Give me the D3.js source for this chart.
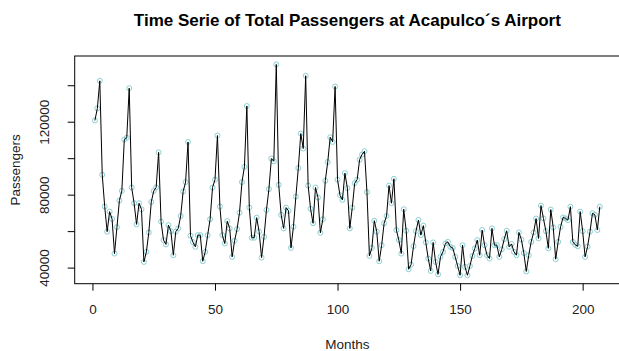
<!DOCTYPE html>
<html>
<head>
<meta charset="utf-8">
<script src="https://cdn.jsdelivr.net/npm/d3@7"></script>
<style>
  body { margin: 0; background: #fff; }
  text { font-family: "Liberation Sans", Arial, sans-serif; }
</style>
</head>
<body>
<svg id="chart" width="619" height="351"></svg>
<script>
// monthly totals, month 1 .. 207
const passengers = [
  120700, 127300, 142400, 90900, 73500, 59700, 70700, 66700, 47700, 62200,
  76800, 82100, 110200, 111200, 138400, 83900, 75300, 63700, 75300, 72000,
  43100, 48600, 59300, 76000, 82000, 84000, 103200, 65200, 55100, 52700,
  63300, 60000, 46800, 59700, 61500, 68300, 81700, 86900, 108900, 57500,
  54000, 51400, 57800, 57800, 43500, 48600, 57800, 66500, 83900, 88200,
  112400, 73500, 57800, 53200, 65500, 61500, 45900, 54700, 61100, 70100,
  86900, 95200, 128600, 72900, 56400, 56400, 67400, 59700, 45500, 56900,
  71600, 83000, 99800, 98300, 151400, 85400, 68900, 61500, 72900, 71100,
  50800, 62400, 79000, 94600, 113500, 105300, 145200, 85000, 72200, 64300,
  83900, 78400, 59100, 66500, 87600, 97900, 111500, 108900, 139300, 88200,
  79700, 77100, 91800, 83600, 61500, 72900, 86300, 88200, 99200, 102000,
  103800, 81400, 46400, 50800, 65700, 59700, 43500, 52300, 64300, 68300,
  85000, 75300, 88700, 60600, 55100, 47700, 72000, 60200, 39100, 41600,
  51800, 60000, 66100, 57800, 63000, 53800, 45000, 38200, 53800, 43100,
  36300, 45900, 48600, 53200, 54100, 51400, 50800, 45900, 40900, 35800,
  52300, 40400, 35800, 40900, 46400, 50500, 55100, 46800, 60600, 52300,
  46800, 45000, 61500, 52300, 52300, 45900, 50000, 55600, 60200, 51400,
  53000, 48600, 46800, 59300, 55400, 48000, 37900, 46800, 54100, 59300,
  66900, 56000, 74000, 67000, 60000, 50600, 71800, 62000, 44600, 54100,
  62400, 67500, 67000, 66000, 73400, 54100, 52500, 51700, 70700, 60000,
  45900, 51500, 59700, 69800, 68900, 60600, 73400
];
const months = passengers.map((d, i) => i + 1);
const xTicks = [0, 50, 100, 150, 200];
const yTicks = [40000, 60000, 80000, 100000, 120000, 140000];
const yLabels = [40000, 80000, 120000];

const svg = d3.select('#chart');

const plotL = 74.7, plotR = 620, plotT = 56, plotB = 283.7;
const fs = 13.5;

// R style 4% padding on both ends
const xr = d3.extent(months), yr = d3.extent(passengers);
const xPad = (xr[1] - xr[0]) * 0.04, yPad = (yr[1] - yr[0]) * 0.04;

const x = d3.scaleLinear()
  .domain([xr[0] - xPad, xr[1] + xPad])
  .range([plotL, plotR]);

const y = d3.scaleLinear()
  .domain([yr[0] - yPad, yr[1] + yPad])
  .range([plotB, plotT]);

// title
svg.append('text')
  .attr('x', (plotL + plotR) / 2)
  .attr('y', 26)
  .attr('text-anchor', 'middle')
  .attr('font-size', 17)
  .attr('font-weight', 'bold')
  .text('Time Serie of Total Passengers at Acapulco´s Airport');

// points first, line over them
svg.append('g')
  .selectAll('circle')
  .data(passengers)
  .enter()
  .append('circle')
  .attr('cx', (d, i) => x(months[i]))
  .attr('cy', d => y(d))
  .attr('r', 2.5)
  .attr('fill', 'none')
  .attr('stroke', '#8ccfd3')
  .attr('stroke-width', 1);

const line = d3.line()
  .x((d, i) => x(months[i]))
  .y(d => y(d));

svg.append('path')
  .datum(passengers)
  .attr('d', line)
  .attr('fill', 'none')
  .attr('stroke', '#000')
  .attr('stroke-width', 1);

// frame
svg.append('rect')
  .attr('x', plotL)
  .attr('y', plotT)
  .attr('width', plotR - plotL)
  .attr('height', plotB - plotT)
  .attr('fill', 'none')
  .attr('stroke', '#000')
  .attr('stroke-width', 1);

// x axis
const xAxis = d3.axisBottom(x)
  .tickValues(xTicks)
  .tickSize(7)
  .tickPadding(14)
  .tickSizeOuter(0);

const gx = svg.append('g')
  .attr('transform', 'translate(0,' + plotB + ')')
  .call(xAxis);
gx.select('.domain').remove();
gx.selectAll('text')
  .attr('font-size', fs)
  .attr('fill', '#222')
  .attr('font-family', '"Liberation Sans", Arial, sans-serif');

// y axis, only every other label like R drops them
const yAxis = d3.axisLeft(y)
  .tickValues(yTicks)
  .tickSize(7)
  .tickFormat(d => yLabels.includes(d) ? d : '');

const gy = svg.append('g')
  .attr('transform', 'translate(' + plotL + ',0)')
  .call(yAxis);
gy.select('.domain').remove();
gy.selectAll('.tick text')
  .attr('font-size', fs)
  .attr('fill', '#222')
  .attr('font-family', '"Liberation Sans", Arial, sans-serif')
  .attr('text-anchor', 'middle')
  .attr('x', 0)
  .attr('dy', 0)
  .attr('y', 0)
  .attr('transform', 'translate(-26,0) rotate(-90)');

// axis titles
svg.append('text')
  .attr('x', (plotL + plotR) / 2)
  .attr('y', 349)
  .attr('text-anchor', 'middle')
  .attr('font-size', fs)
  .attr('fill', '#222')
  .text('Months');

svg.append('text')
  .attr('transform', 'translate(20,' + ((plotT + plotB) / 2) + ') rotate(-90)')
  .attr('text-anchor', 'middle')
  .attr('font-size', fs)
  .attr('fill', '#222')
  .text('Passengers');
</script>
</body>
</html>
